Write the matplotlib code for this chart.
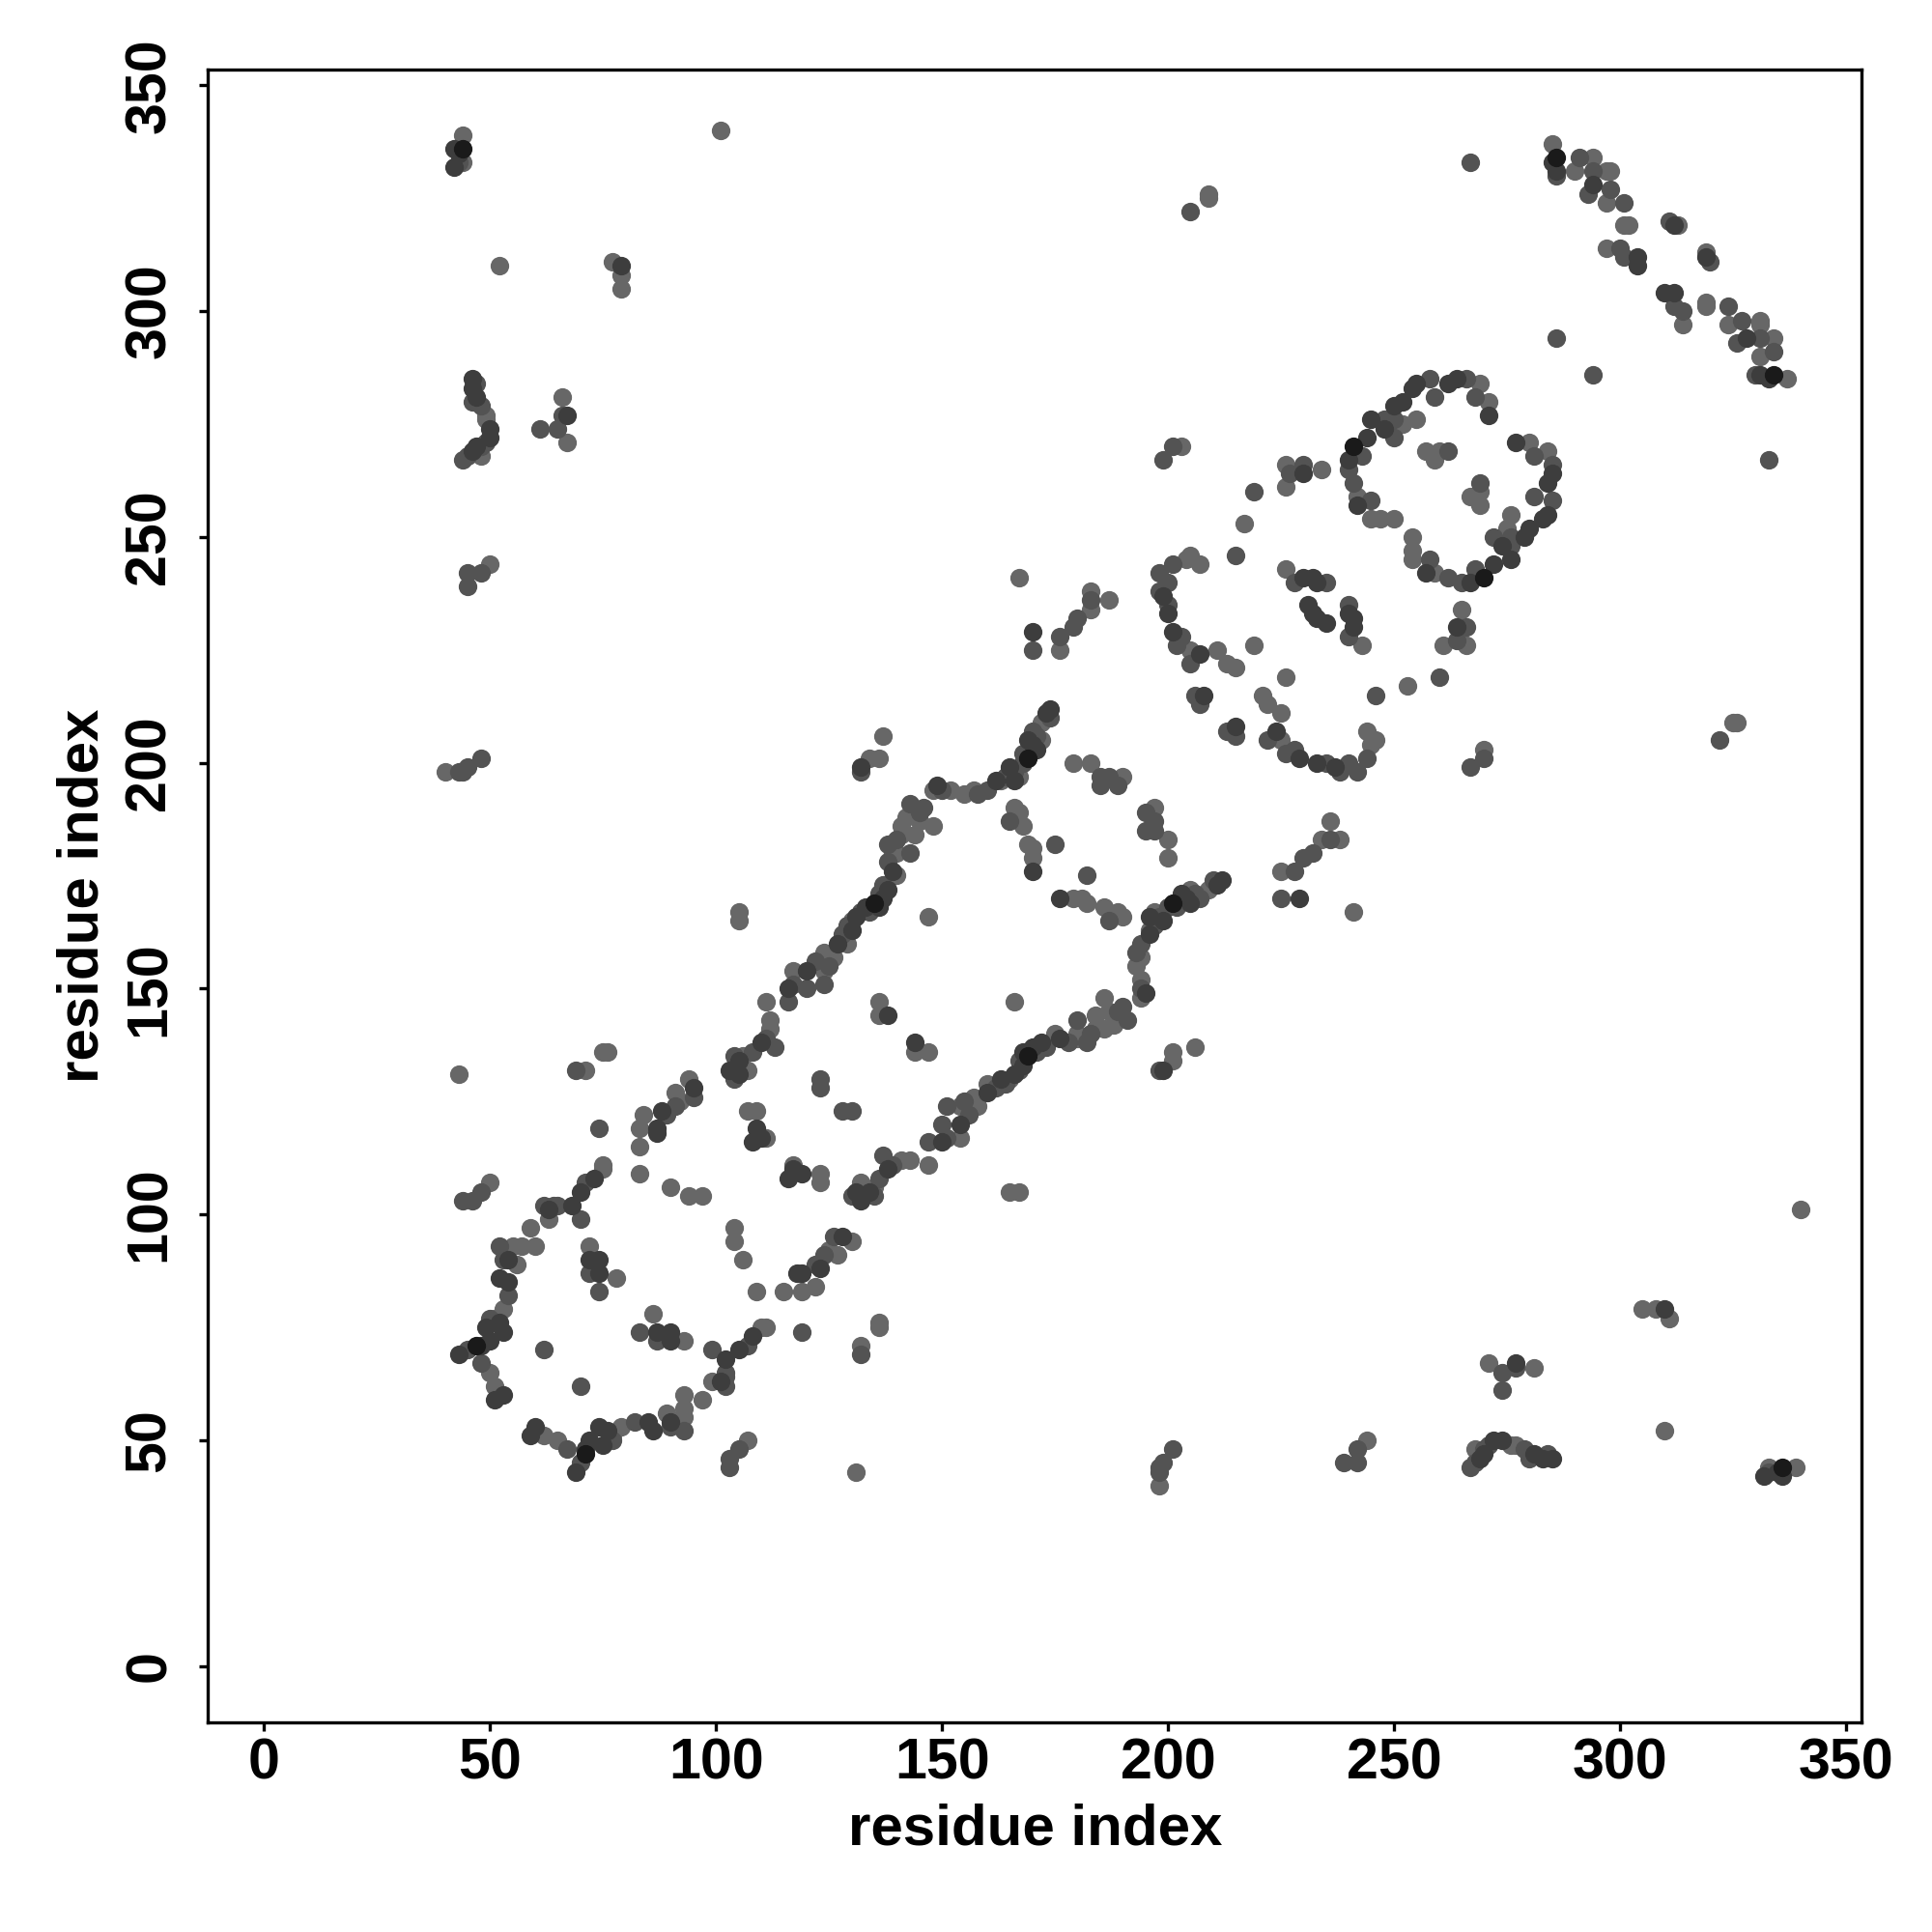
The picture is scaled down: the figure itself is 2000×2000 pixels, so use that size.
import numpy as np
import matplotlib
matplotlib.use("Agg")
import matplotlib.pyplot as plt

plt.rcParams["font.family"] = ["Liberation Sans", "DejaVu Sans"]
plt.rcParams["font.weight"] = "bold"

# ------------------------------------------------------------------ #
#  predicted contacts (i, j) with i < j; the map is drawn symmetric   #
#  grouped by how strong (dark) the point is                          #
# ------------------------------------------------------------------ #
light = [
    (44, 339), (44, 333), (52, 310), (77, 311), (79, 308), (79, 305), (101, 340),
    (49, 277), (49, 276), (48, 268), (66, 281), (67, 271), (50, 244), (40, 198),
    (43, 131), (50, 107),
    (55, 93), (57, 93), (60, 93), (59, 97), (63, 99), (75, 110), (75, 111),
    (56, 89), (53, 79), (51, 77), (50, 65), (51, 62),
    (72, 93), (78, 86), (71, 132), (75, 136), (76, 136),
    (84, 122), (83, 119), (83, 115), (91, 127), (94, 130), (92, 125), (83, 109),
    (90, 106), (94, 104), (97, 104), (107, 132), (107, 123), (109, 123), (111, 117),
    (106, 135), (112, 141), (112, 143), (111, 147), (117, 154), (124, 154),
    (124, 158), (129, 160), (140, 175), (140, 180), (141, 184), (141, 186),
    (130, 165), (105, 167), (105, 165), (136, 147), (136, 144), (137, 206),
    (136, 201), (134, 201), (126, 157), (139, 180), (142, 188),
    (145, 187), (148, 186), (148, 194), (152, 194), (155, 193), (144, 184),
    (147, 166), (172, 209), (163, 196), (166, 190), (168, 186), (169, 182),
    (170, 181), (170, 179), (167, 189), (179, 200), (183, 200), (190, 197),
    (157, 194), (167, 197), (172, 205),
    (167, 241), (183, 238), (183, 234), (187, 236), (176, 225), (205, 225),
    (211, 225), (213, 222), (215, 221), (204, 245), (205, 246), (207, 244),
    (219, 226), (226, 243), (209, 326), (209, 325), (203, 270), (217, 253),
    (226, 266), (226, 261), (234, 265),
    (242, 259), (245, 254), (247, 254), (269, 284), (271, 280), (252, 275),
    (255, 276), (257, 269), (260, 269), (259, 267), (250, 254),
    (285, 337), (294, 334), (290, 331), (297, 331), (298, 331), (297, 324),
    (301, 319), (302, 319), (297, 314), (313, 319),
]

mid = [
    (43, 333), (47, 284), (46, 280), (48, 279), (49, 271), (48, 270), (45, 268),
    (44, 267), (61, 274), (66, 277), (65, 274), (45, 242), (48, 242), (45, 239),
    (43, 198), (44, 198), (45, 199), (48, 201), (44, 103), (46, 103), (48, 105),
    (52, 93), (62, 102), (65, 102), (71, 107), (70, 99), (64, 102), (53, 90),
    (54, 82), (50, 77), (45, 70), (48, 67), (72, 87), (74, 83), (62, 70),
    (74, 119), (69, 132),
    (91, 124), (95, 126), (89, 122), (104, 130), (123, 130), (123, 128),
    (104, 135), (108, 136), (111, 139), (113, 137), (116, 147), (117, 151),
    (120, 150), (124, 151), (122, 156), (129, 164), (138, 178), (138, 182),
    (136, 171), (132, 167), (132, 198), (125, 155), (128, 162), (134, 167),
    (137, 173), (140, 183),
    (143, 191), (145, 189), (150, 194), (143, 180), (160, 194), (164, 197),
    (168, 200), (171, 206), (166, 198), (165, 187), (175, 182), (185, 197),
    (187, 197), (185, 195), (189, 195), (146, 190), (158, 193), (168, 202),
    (170, 207), (174, 210),
    (183, 236), (180, 232), (179, 230), (176, 228), (170, 225), (200, 240),
    (198, 238), (200, 235), (202, 226), (205, 222), (198, 242), (201, 244),
    (203, 228), (206, 215), (207, 213), (228, 240), (235, 240), (205, 322),
    (201, 270), (199, 267), (219, 260), (215, 246), (230, 266), (227, 264),
    (248, 276), (240, 265), (241, 262), (245, 258), (243, 268), (258, 285),
    (259, 281), (266, 285), (268, 281), (250, 276), (250, 272), (262, 269),
    (267, 333),
    (286, 330), (291, 334), (294, 331), (293, 326), (298, 327), (301, 324),
    (300, 314), (301, 312), (311, 320), (286, 294),
]

dark = [
    (42, 336), (43, 335), (42, 332), (79, 310), (46, 285), (46, 283), (47, 281),
    (50, 274), (50, 272), (47, 270), (46, 269), (67, 277),
    (63, 101), (68, 102), (70, 105), (73, 108), (54, 90), (52, 86), (54, 85),
    (53, 74), (50, 72), (48, 71), (43, 69), (51, 59), (53, 60), (49, 75), (52, 76),
    (72, 90), (74, 90), (74, 87),
    (87, 119), (87, 118), (88, 123), (95, 128), (103, 132), (105, 131),
    (109, 119), (110, 117), (108, 116),
    (105, 134), (110, 138), (116, 150), (120, 154), (131, 166), (133, 168),
    (137, 170), (138, 172), (139, 176), (138, 144), (132, 199), (127, 160),
    (130, 163), (136, 168),
    (149, 195), (162, 196), (165, 199), (170, 204), (173, 211), (174, 212),
    (170, 176), (169, 205), (171, 203), (166, 196),
    (170, 229), (200, 233), (201, 229), (207, 224), (199, 237), (208, 215),
    (230, 241), (232, 241), (233, 240), (231, 235), (232, 233), (230, 264),
    (245, 276), (248, 274), (244, 272), (240, 267), (242, 257), (250, 279),
    (252, 280), (255, 284), (262, 284), (271, 277), (254, 283), (264, 285),
    (286, 331), (285, 333), (294, 328), (304, 312), (304, 310), (312, 319),
]

strongest = [(44, 336), (47, 71), (135, 169), (169, 201), (241, 270), (286, 334)]

ticks = [0, 50, 100, 150, 200, 250, 300, 350]


def mirrored(pairs):
    a = np.array(pairs, dtype=float)
    return np.concatenate([a[:, 0], a[:, 1]]), np.concatenate([a[:, 1], a[:, 0]])


fig = plt.figure(figsize=(10, 10), dpi=200)
ax = fig.add_axes([0.1075, 0.1085, 0.8562, 0.8557])

for pairs, col in [(light, "#676767"), (mid, "#535353"),
                   (dark, "#3d3d3d"), (strongest, "#1a1a1a")]:
    x, y = mirrored(pairs)
    ax.scatter(x, y, s=48, c=col, linewidths=0, zorder=2)

ax.set_xlim(-12.5, 353.6)
ax.set_ylim(-12.5, 353.6)
ax.set_xticks(ticks)
ax.set_yticks(ticks)
ax.set_yticklabels([str(t) for t in ticks], rotation=90, va="center")

for s in ax.spines.values():
    s.set_linewidth(1.2)
ax.tick_params(axis="both", length=3.2, width=1.2, labelsize=21.3)
ax.tick_params(axis="x", pad=2.2)
ax.tick_params(axis="y", pad=8.4)

ax.set_xlabel("residue index", fontsize=21.6, fontweight="bold", labelpad=5)
ax.set_ylabel("residue index", fontsize=21.6, fontweight="bold", labelpad=5)

fig.savefig("out.png", dpi=200, facecolor="white")
